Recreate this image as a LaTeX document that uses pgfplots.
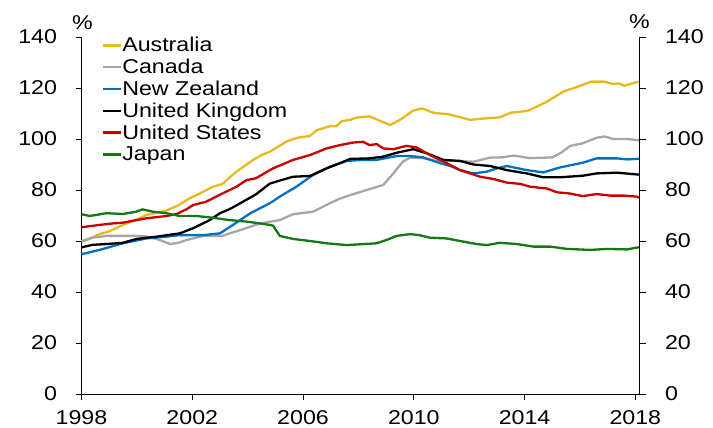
\documentclass[border=0pt]{standalone}
\usepackage{fontspec}
\setmainfont[FakeStretch=1.16]{Liberation Sans}
\usepackage{pgfplots}
\pgfplotsset{compat=1.18}
\definecolor{cAus}{RGB}{230,185,30}
\definecolor{cCan}{RGB}{166,166,166}
\definecolor{cNZ}{RGB}{0,112,192}
\definecolor{cUK}{RGB}{0,0,0}
\definecolor{cUS}{RGB}{200,0,0}
\definecolor{cJap}{RGB}{20,120,20}
\newcommand{\F}{\fontsize{20bp}{24bp}\selectfont}
\begin{document}
\begin{tikzpicture}
\pgfplotsset{
  base/.style={
    scale only axis, width=558bp, height=357bp,
    xmin=1998, xmax=2018.15, ymin=0, ymax=140,
    ytick={0,20,...,140},
    tick align=outside, major tick length=6bp,
    every tick/.style={black, line width=0.8bp},
    axis line style={black, line width=0.8bp},
    /pgf/number format/assume math mode=true,
    /pgf/number format/1000 sep={},
    tick label style={font=\F},
  }
}
\begin{axis}[base, name=ax,
  axis y line*=left, axis x line*=bottom,
  xtick={1998,2002,...,2018},
  xticklabel style={yshift=-7bp},
  yticklabel style={xshift=-15bp},
  clip=false,
  legend style={draw=none, fill=none, at={(0,1)}, anchor=north west, xshift=20.5bp,
    inner sep=0pt, outer sep=0pt, font=\F, row sep=0pt, column sep=0pt,
    nodes={inner sep=0pt, text height=15bp, text depth=6.8bp}},
  legend cell align=left,
  legend image code/.code={\draw[#1, line width=2.3bp] (0bp,2.5bp) -- (18bp,2.5bp);},
  every axis plot/.append style={line width=2.3bp},
]
\addplot[cAus] coordinates {
(1998.0,60.0) (1998.3,61.0) (1998.65,62.7) (1999.0,63.8) (1999.5,66.3) (2000.0,68.5) (2000.34,70.2) (2000.7,71.0) (2001.06,71.9) (2001.5,74.0) (2001.9,76.7) (2002.3,78.8) (2002.75,81.3) (2003.1,82.4) (2003.3,84.5) (2003.6,87.2) (2003.9,89.5) (2004.2,91.8) (2004.5,93.7) (2004.8,95.0) (2005.1,97.0) (2005.4,99.0) (2005.8,100.5) (2006.25,101.2) (2006.5,103.5) (2006.97,105.0) (2007.2,105.0) (2007.4,107.0) (2007.7,107.5) (2007.94,108.4) (2008.4,108.9) (2008.7,107.5) (2009.14,105.5) (2009.5,107.5) (2009.97,111.1) (2010.3,112.0) (2010.7,110.3) (2011.3,109.6) (2012.03,107.5) (2012.5,108.0) (2013.1,108.5) (2013.5,110.3) (2014.1,111.0) (2014.4,112.5) (2014.8,114.6) (2015.4,118.6) (2016.0,120.8) (2016.4,122.5) (2016.85,122.5) (2017.2,121.6) (2017.4,121.8) (2017.6,120.9) (2018.05,122.3) (2018.15,122.3)};
\addlegendentry{Australia}
\addplot[cCan] coordinates {
(1998.0,59.7) (1998.4,61.3) (1998.9,62.0) (1999.5,62.0) (2000.0,62.0) (2000.34,61.8) (2000.8,60.5) (2001.2,58.8) (2001.5,59.3) (2001.8,60.4) (2002.4,62.0) (2003.1,62.0) (2003.35,63.0) (2003.8,64.5) (2004.44,66.9) (2005.16,68.2) (2005.64,70.5) (2006.36,71.5) (2006.97,74.8) (2007.3,76.5) (2007.7,78.0) (2008.3,80.0) (2008.9,82.0) (2009.26,86.5) (2009.6,91.1) (2009.86,92.7) (2010.33,92.5) (2010.8,91.5) (2011.3,91.5) (2012.15,91.1) (2012.76,92.7) (2013.2,92.8) (2013.6,93.5) (2014.2,92.5) (2015.0,92.8) (2015.3,94.5) (2015.65,97.3) (2016.1,98.3) (2016.6,100.5) (2016.9,101.0) (2017.2,100.0) (2017.7,100.0) (2018.05,99.6) (2018.15,99.4)};
\addlegendentry{Canada}
\addplot[cNZ] coordinates {
(1998.0,54.8) (1998.65,56.5) (1999.5,59.1) (2000.34,61.0) (2001.06,61.7) (2001.55,62.3) (2002.4,62.3) (2003.0,63.0) (2003.47,66.3) (2004.1,70.9) (2004.44,72.8) (2004.8,74.8) (2005.16,77.4) (2005.76,81.3) (2006.36,85.9) (2006.97,89.1) (2007.57,91.4) (2008.17,91.8) (2008.66,91.8) (2009.38,93.3) (2009.86,93.3) (2010.33,92.8) (2010.95,90.5) (2011.3,89.5) (2011.67,87.8) (2012.15,86.5) (2012.64,87.2) (2013.0,88.5) (2013.36,89.4) (2014.08,87.8) (2014.67,86.9) (2015.3,88.9) (2016.1,90.7) (2016.6,92.4) (2017.34,92.4) (2017.7,92.0) (2018.05,92.2) (2018.15,92.3)};
\addlegendentry{New Zealand}
\addplot[cUK] coordinates {
(1998.0,57.5) (1998.4,58.5) (1998.9,58.8) (1999.5,59.3) (1999.98,60.8) (2000.7,61.7) (2001.55,63.0) (2002.03,65.0) (2002.63,68.2) (2003.0,70.9) (2003.35,72.5) (2003.83,75.4) (2004.3,78.3) (2004.8,82.5) (2005.16,83.7) (2005.64,85.2) (2006.25,85.5) (2006.85,88.5) (2007.33,90.5) (2007.7,92.2) (2008.4,92.4) (2008.9,93.1) (2009.38,94.6) (2009.98,96.0) (2010.47,94.4) (2011.07,91.8) (2011.67,91.4) (2012.15,90.0) (2012.76,89.4) (2013.36,87.8) (2014.08,86.5) (2014.67,85.0) (2015.3,85.0) (2016.1,85.6) (2016.6,86.5) (2017.34,86.8) (2018.05,86.1) (2018.15,86.1)};
\addlegendentry{United Kingdom}
\addplot[cUS] coordinates {
(1998.0,65.4) (1998.65,66.3) (1999.13,66.9) (1999.5,67.2) (2000.34,68.9) (2001.06,69.8) (2001.42,70.5) (2001.8,72.5) (2002.03,74.1) (2002.5,75.4) (2003.1,78.7) (2003.6,81.3) (2003.96,83.9) (2004.3,84.6) (2004.8,87.8) (2004.92,88.5) (2005.64,91.8) (2006.25,93.7) (2006.85,96.3) (2007.33,97.6) (2007.8,98.6) (2008.17,98.9) (2008.4,97.6) (2008.66,98.0) (2008.9,96.3) (2009.26,96.0) (2009.74,97.3) (2010.1,96.7) (2010.58,93.7) (2011.19,90.5) (2011.67,87.8) (2012.4,85.2) (2012.88,84.3) (2013.36,82.9) (2013.84,82.4) (2014.2,81.3) (2014.8,80.6) (2015.17,79.1) (2015.65,78.6) (2016.1,77.6) (2016.6,78.4) (2017.1,77.8) (2017.6,77.8) (2018.05,77.4) (2018.15,77.0)};
\addlegendentry{United States}
\addplot[cJap] coordinates {
(1998.0,70.5) (1998.3,69.8) (1998.9,70.9) (1999.5,70.6) (1999.98,71.5) (2000.2,72.4) (2000.58,71.5) (2001.06,70.9) (2001.55,69.8) (2002.15,69.8) (2002.75,69.1) (2003.35,68.2) (2003.96,67.6) (2004.44,66.9) (2004.8,66.3) (2004.92,66.0) (2005.16,62.0) (2005.64,60.8) (2006.25,60.0) (2006.85,59.1) (2007.57,58.4) (2008.05,58.7) (2008.66,59.1) (2009.02,60.4) (2009.38,62.0) (2009.86,62.7) (2010.2,62.3) (2010.58,61.3) (2011.19,61.0) (2011.67,60.0) (2012.27,58.8) (2012.64,58.4) (2013.1,59.3) (2013.72,58.8) (2014.32,57.8) (2014.93,57.8) (2015.53,56.9) (2016.37,56.5) (2016.98,56.9) (2017.7,56.7) (2018.05,57.4) (2018.15,57.6)};
\addlegendentry{Japan}
\node[font=\F, inner sep=0pt] at ([yshift=14bp, xshift=1bp]rel axis cs:0,1) {\%};
\node[font=\F, inner sep=0pt] at ([yshift=15bp]rel axis cs:1,1) {\%};
\end{axis}
\begin{axis}[base,
  axis y line*=right, axis x line=none,
  yticklabel style={xshift=16bp},
]
\end{axis}
\pgfresetboundingbox
\path (ax.south west) ++(-81.5bp,-34bp) rectangle ++(713bp,428bp);
\end{tikzpicture}
\end{document}
